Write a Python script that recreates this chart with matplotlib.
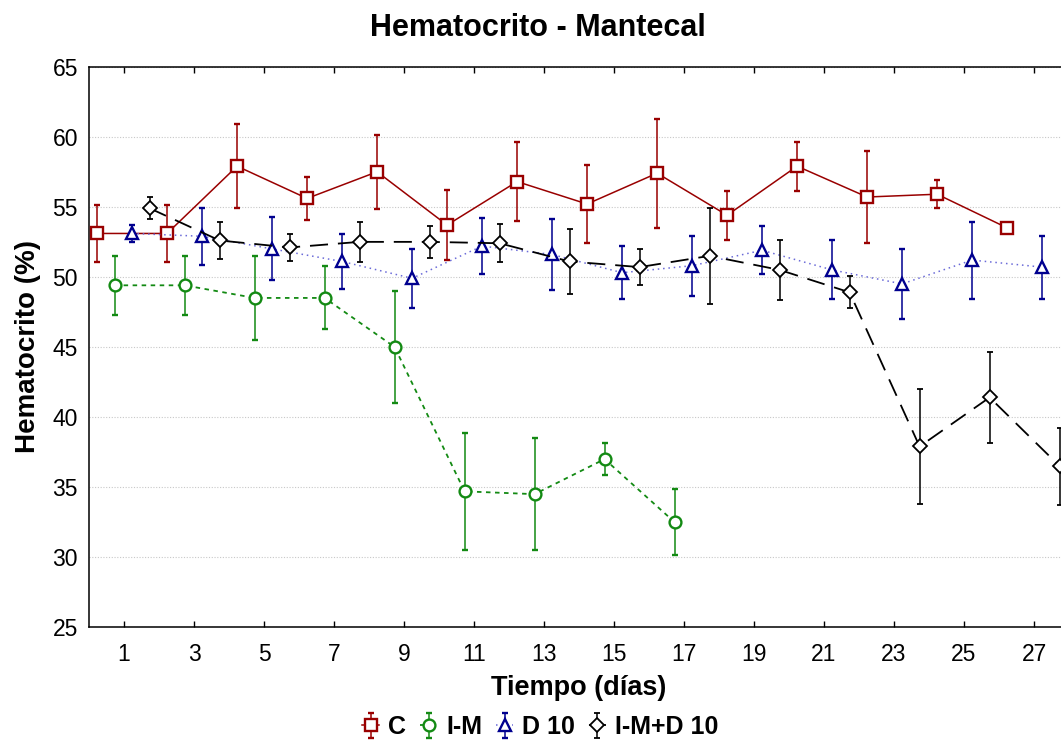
import numpy as np
import matplotlib
matplotlib.use("Agg")
import matplotlib.pyplot as plt

plt.rcParams["font.family"] = ["Liberation Sans", "DejaVu Sans"]

# days (tick centres) and group means / errors
days = [1, 3, 5, 7, 9, 11, 13, 15, 17, 19, 21, 23, 25, 27]

c_mean = [53.1, 53.1, 57.9, 55.6, 57.5, 53.7, 56.8, 55.2, 57.4, 54.4, 57.9, 55.7, 55.9, 53.5]
c_err = [2.05, 2.05, 3.0, 1.55, 2.65, 2.5, 2.8, 2.8, 3.9, 1.75, 1.75, 3.3, 1.0, 0.15]

im_days = days[:9]
im_mean = [49.4, 49.4, 48.5, 48.5, 45.0, 34.7, 34.5, 37.0, 32.5]
im_err = [2.1, 2.1, 3.0, 2.25, 4.0, 4.15, 4.0, 1.15, 2.35]

d10_mean = [53.1, 52.9, 52.0, 51.1, 49.9, 52.2, 51.6, 50.3, 50.8, 51.9, 50.5, 49.5, 51.2, 50.7]
d10_err = [0.6, 2.05, 2.25, 1.95, 2.1, 2.0, 2.5, 1.9, 2.15, 1.7, 2.1, 2.5, 2.75, 2.25]

imd_mean = [54.9, 52.6, 52.1, 52.5, 52.5, 52.4, 51.1, 50.7, 51.5, 50.5, 48.9, 37.9, 41.4, 36.5]
imd_err = [0.8, 1.35, 0.95, 1.45, 1.15, 1.35, 2.3, 1.3, 3.45, 2.15, 1.15, 4.1, 3.25, 2.75]

labels = ["C", "I-M", "D 10", "I-M+D 10"]

fig = plt.figure(figsize=(10.61, 7.40), dpi=100)
ax = fig.add_axes([0.0839, 0.1523, 0.9237, 0.7576])

def series(x, off, y, err, color, lcolor, marker, ms, mew, ls, lw, z):
    xs = np.array(x) + off
    cont = ax.errorbar(
        xs, y, yerr=err,
        color=lcolor, ecolor=color, elinewidth=1.1, capsize=2.5, capthick=1.1,
        marker=marker, ms=ms, mfc="white", mec=color, mew=mew,
        linestyle=ls, linewidth=lw, zorder=z,
    )
    return cont

h1 = series(days, -0.77, c_mean, c_err, "#990000", "#990000",
            "s", 8, 1.7, "-", 1.1, 3)
h2 = series(im_days, -0.27, im_mean, im_err, "#138a13", "#138a13",
            "o", 8.5, 1.7, (0, (2.5, 2.5)), 1.3, 4)
h3 = series(days, 0.23, d10_mean, d10_err, "#00008f", "#6a6ad8",
            "^", 8.5, 1.7, (0, (1, 2.5)), 1.1, 5)
h4 = series(days, 0.73, imd_mean, imd_err, "black", "black",
            "D", 7, 1.3, (0, (10, 5.5)), 1.3, 6)

ax.set_xlim(0, 28)
ax.set_ylim(25, 65)
ax.set_xticks(days)
ax.set_yticks(np.arange(25, 66, 5))
ax.tick_params(axis="x", direction="in", length=4, width=1, top=True,
               labelsize=16.5, pad=11)
ax.tick_params(axis="y", length=0, labelsize=16.5, pad=8)
ax.grid(axis="y", linestyle=(0, (1, 1.5)), color="#c8c8c8", linewidth=0.8)
ax.set_axisbelow(True)
for s in ["left", "top", "bottom"]:
    ax.spines[s].set_linewidth(1.1)
ax.spines["right"].set_visible(False)

ax.set_xlabel("Tiempo (días)", fontsize=19.5, fontweight="bold", labelpad=7)
ax.set_ylabel("Hematocrito (%)", fontsize=20, fontweight="bold", labelpad=8)
fig.text(538 / 1061, 1 - 28 / 740, "Hematocrito - Mantecal", ha="center",
         va="center", fontsize=22, fontweight="bold")

fig.legend([h1, h2, h3, h4], labels, loc="center", ncol=4, frameon=False,
           bbox_to_anchor=(540 / 1061, 1 - 727 / 740),
           prop={"size": 18, "weight": "bold"}, handlelength=0.7,
           handletextpad=0.35, columnspacing=0.55, borderaxespad=0)

fig.savefig("out.png", dpi=100, facecolor="white")
